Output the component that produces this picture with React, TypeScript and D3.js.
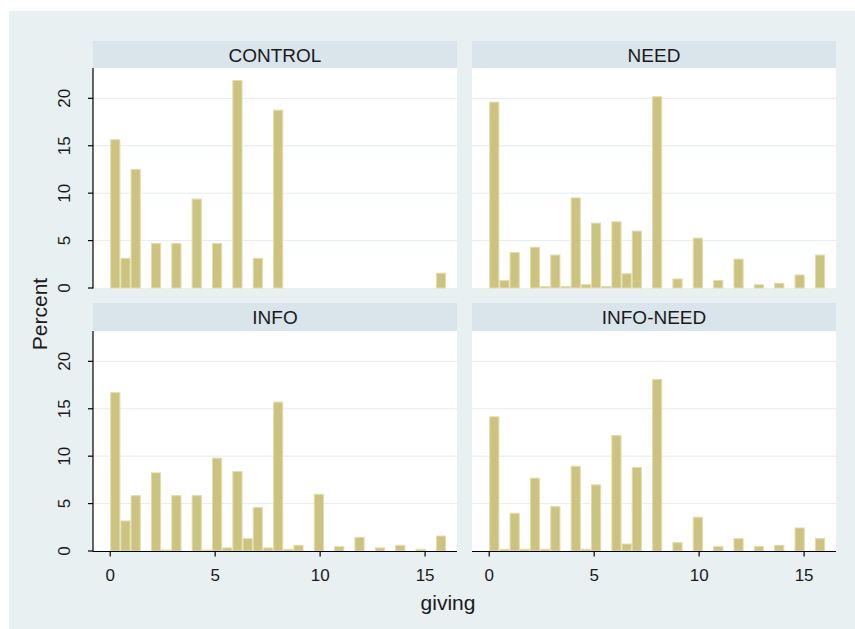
import React from 'react';
import * as d3 from 'd3';

// panel titles, in reading order
const panels = ['CONTROL', 'NEED', 'INFO', 'INFO-NEED'];

// percent per bin (33 bins of width 16/33 from 0 to 16)
const control = [15.63, 3.13, 12.5, 0, 4.69, 0, 4.69, 0, 9.38, 0, 4.69, 0, 21.88, 0, 3.13, 0, 18.75,
  0, 0, 0, 0, 0, 0, 0, 0, 0, 0, 0, 0, 0, 0, 0, 1.56];
const need = [19.6, 0.8, 3.75, 0, 4.3, 0.15, 3.47, 0.15, 9.5, 0.35, 6.84, 0.15, 6.98, 1.5, 6.0, 0, 20.17,
  0, 0.95, 0, 5.26, 0, 0.8, 0, 3.05, 0, 0.35, 0, 0.5, 0, 1.37, 0, 3.47];
const info = [16.7, 3.17, 5.84, 0, 8.24, 0.1, 5.84, 0, 5.84, 0.1, 9.79, 0.32, 8.38, 1.3, 4.58, 0.32, 15.7,
  0.18, 0.6, 0, 5.98, 0, 0.46, 0, 1.44, 0, 0.32, 0, 0.6, 0, 0.18, 0, 1.58];
const infoNeed = [14.15, 0.18, 3.98, 0.18, 7.68, 0.18, 4.68, 0, 8.94, 0.18, 6.97, 0, 12.18, 0.74, 8.8, 0, 18.09,
  0, 0.88, 0, 3.56, 0, 0.46, 0, 1.3, 0, 0.46, 0, 0.6, 0, 2.43, 0, 1.3];

const series = [control, need, info, infoNeed];
const xTicks = [0, 5, 10, 15];
const yTicks = [0, 5, 10, 15, 20];
const binWidth = 16 / 33;

const W = 855, H = 629;
const font = '"Liberation Sans", Arial, sans-serif';
const ink = '#1a1a1a';
const bg = '#e8f0f2';
const stripFill = '#d9e5ea';
const barFill = '#ccc381';
const barStroke = '#e2dcab';

const colX = [93, 472];
const rowTop = [68, 331];
const stripH = [27, 28];
const pw = 364, ph = 220;

export default function App() {
  const x = d3.scaleLinear().domain([-0.82, 16.52]).range([0, pw]);
  const y = d3.scaleLinear().domain([0, 23.2]).range([ph, 0]);

  return (
    <svg width={W} height={H} style={{ position: 'absolute', left: 0, top: 0 }}>
      <rect x={0} y={0} width={W} height={H} fill="#fff" />
      <rect x={9} y={11} width={W - 9} height={H - 11} fill={bg} />
      {series.map((vals, i) => {
        const col = i % 2, row = Math.floor(i / 2);
        const ox = colX[col], oy = rowTop[row];
        return (
          <g key={panels[i]} transform={`translate(${ox},${oy})`}>
            <rect x={0} y={-stripH[row]} width={pw} height={stripH[row]} fill={stripFill} />
            <text x={pw / 2} y={-stripH[row] + 20.5} textAnchor="middle" fontFamily={font}
              fontSize={19} fill={ink}>{panels[i]}</text>
            <rect x={0} y={0} width={pw} height={ph} fill="#fff" />
            {yTicks.filter(t => t > 0).map(t => (
              <line key={t} x1={0} x2={pw} y1={y(t)} y2={y(t)} stroke="#e3edf0" strokeWidth={1} />
            ))}
            {vals.map((v, j) => v > 0 && (
              <rect key={j} x={x(j * binWidth) + 0.5} y={y(v)}
                width={x((j + 1) * binWidth) - x(j * binWidth) - 1} height={y(0) - y(v)}
                fill={barFill} stroke={barStroke} strokeWidth={1} />
            ))}
            {col === 0 && (
              <g>
                <line x1={0} x2={0} y1={0} y2={ph + 0.5} stroke="#000" strokeWidth={1.2} />
                {yTicks.map(t => (
                  <g key={t} transform={`translate(0,${y(t)})`}>
                    <line x1={-5} x2={0} stroke="#000" strokeWidth={1.2} />
                    <text transform="translate(-29,0) rotate(-90)" textAnchor="middle" dy="0.35em"
                      fontFamily={font} fontSize={17} fill={ink}>{t}</text>
                  </g>
                ))}
              </g>
            )}
            {row === 1 && (
              <g transform={`translate(0,${ph + 0.5})`}>
                <line x1={0} x2={pw} stroke="#000" strokeWidth={1.2} />
                {xTicks.map(t => (
                  <g key={t} transform={`translate(${x(t)},0)`}>
                    <line y1={0} y2={5} stroke="#000" strokeWidth={1.2} />
                    <text y={29} textAnchor="middle" fontFamily={font} fontSize={17}
                      fill={ink}>{t}</text>
                  </g>
                ))}
              </g>
            )}
          </g>
        );
      })}
      <text transform="translate(40,314) rotate(-90)" textAnchor="middle" dy="0.35em"
        fontFamily={font} fontSize={21} fill={ink}>Percent</text>
      <text x={448} y={603} textAnchor="middle" dy="0.35em" fontFamily={font} fontSize={21}
        fill={ink}>giving</text>
    </svg>
  );
}
